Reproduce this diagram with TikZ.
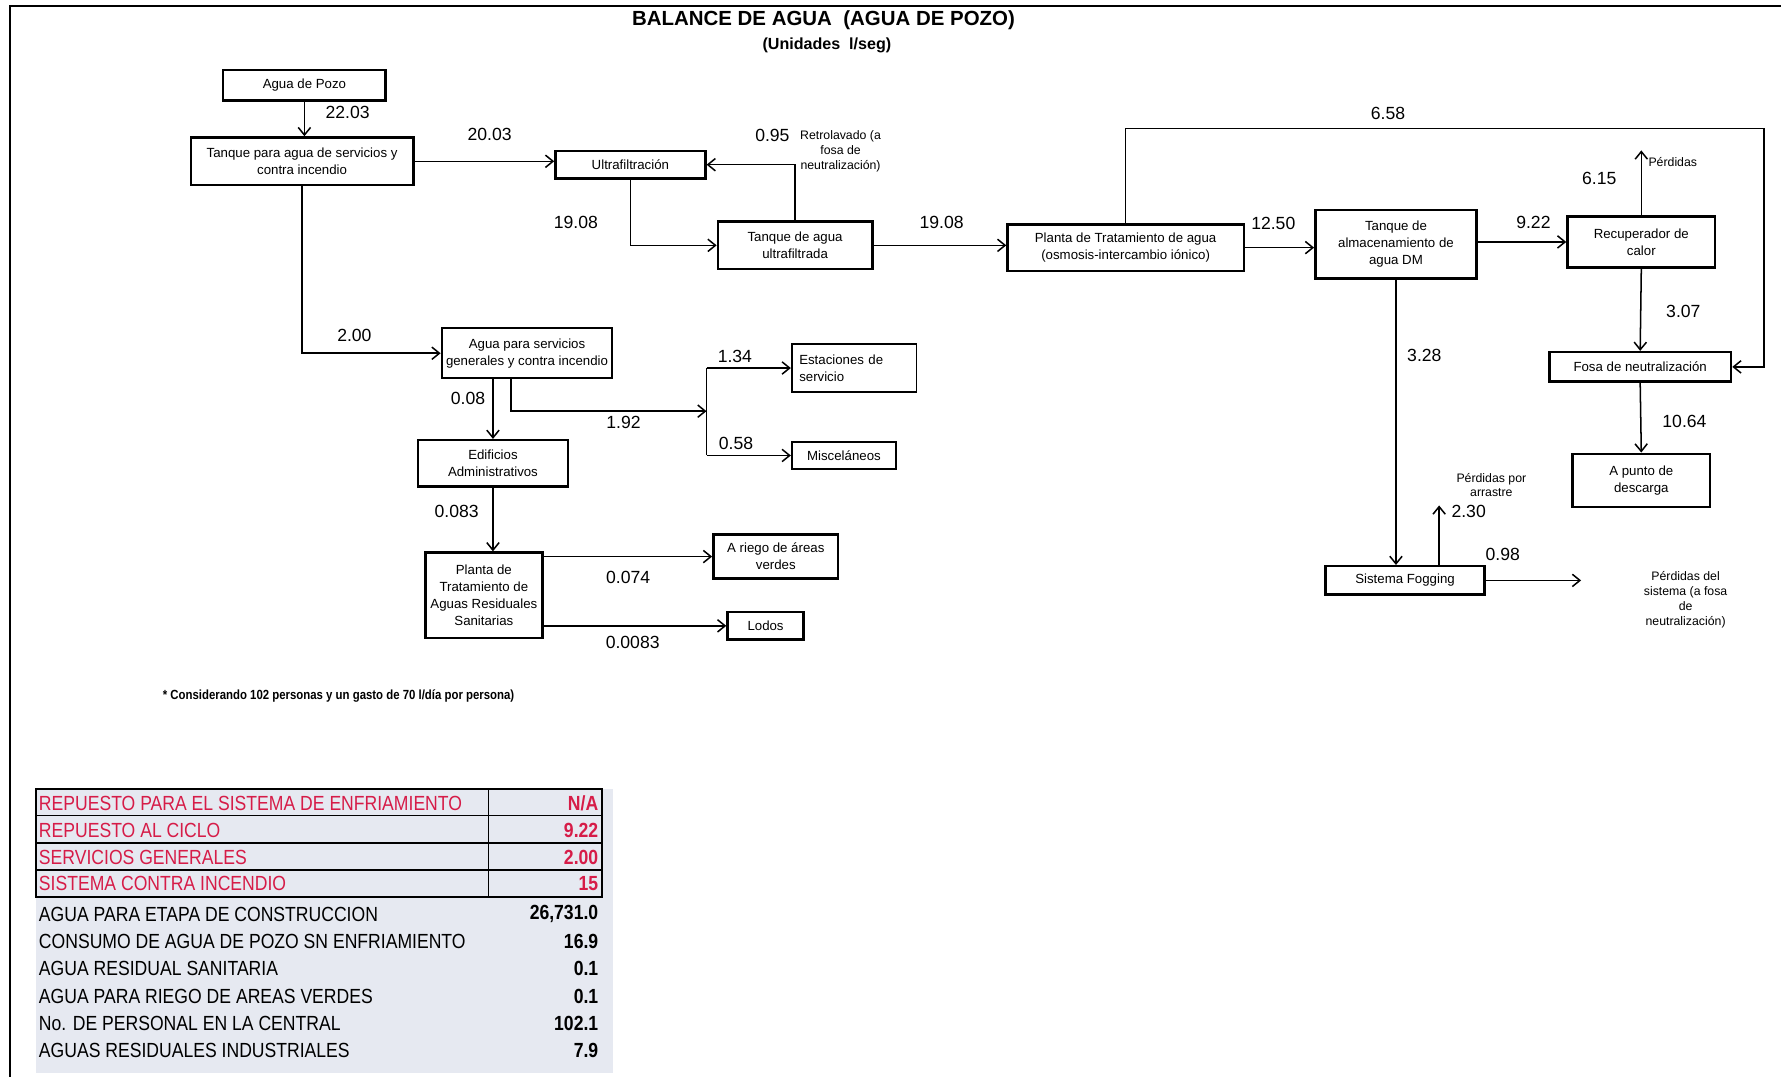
\documentclass[tikz,border=0pt]{standalone}
\usepackage{fontspec}
\setmainfont{Liberation Sans}
\newfontfamily\angosta[FakeStretch=0.86]{Liberation Sans}
\usetikzlibrary{arrows.meta,calc}
\definecolor{rojotabla}{RGB}{214,28,72}
\definecolor{fondotabla}{RGB}{230,233,241}

\begin{document}
\begin{tikzpicture}[x=0.6pt, y=-0.6pt, >={Straight Barb[length=4pt,width=6.5pt]},
	caja/.style={draw, line width=1.3pt, align=center, inner sep=1pt, font=\fontsize{7}{9}\selectfont},
	cajafina/.style={caja, line width=0.9pt},
	num/.style={inner sep=0pt, font=\fontsize{9.3}{11}\selectfont},
	nota/.style={inner sep=0pt, align=center, font=\fontsize{6.5}{7.8}\selectfont},
	flujo/.style={->, line width=0.8pt},
	fila/.style={inner sep=0pt, anchor=west, font=\angosta\fontsize{10.8}{12}\selectfont},
	valor/.style={inner sep=0pt, anchor=east, font=\angosta\bfseries\fontsize{10.8}{12}\selectfont}]
	\useasboundingbox (0,0) rectangle (1568,948);
	\draw[line width=1.2pt] (9,948) -- (9,5) -- (1568,5);

	% titulo
	\node[font=\bfseries\fontsize{10.8}{13}\selectfont] (titulo) at (725,18) {BALANCE DE AGUA\ \ (AGUA DE POZO)};
	\node[font=\bfseries\fontsize{8.5}{10}\selectfont] (unidades) at (728,40) {(Unidades\ \ l/seg)};

	% cajas
	\node[caja, minimum width=85.8pt, minimum height=16.2pt] (pozo) at (268,75) {Agua de Pozo};
	\node[caja, minimum width=117.6pt, minimum height=25.2pt] (tanque) at (266,142) {Tanque para agua de servicios y\\contra incendio};
	\node[caja, minimum width=79.2pt, minimum height=14.4pt] (ultra) at (555,145) {Ultrafiltración};
	\node[caja, minimum width=81.6pt, minimum height=25.2pt] (tuf) at (700,216) {Tanque de agua\\ultrafiltrada};
	\node[caja, minimum width=124.8pt, minimum height=24.6pt] (planta) at (991,218) {Planta de Tratamiento de agua\\(osmosis-intercambio iónico)};
	\node[caja, minimum width=85.2pt, minimum height=36pt] (tdm) at (1229,215) {Tanque de\\almacenamiento de\\agua DM};
	\node[caja, minimum width=78pt, minimum height=27pt] (recup) at (1445,213) {Recuperador de\\calor};
	\node[caja, minimum width=96pt, minimum height=15.6pt] (fosa) at (1444,323) {Fosa de neutralización};
	\node[caja, minimum width=72.6pt, minimum height=28.2pt] (descarga) at (1445,423) {A punto de\\descarga};
	\node[caja, minimum width=84pt, minimum height=15pt] (fog) at (1237,511) {Sistema Fogging};
	\node[caja, minimum width=90pt, minimum height=26.4pt] (servgen) at (464,311) {Agua para servicios\\generales y contra incendio};
	\node[cajafina, align=left, text width=58pt, inner xsep=4pt, minimum height=25.2pt] (estac) at (752,324) {Estaciones de\\servicio};
	\node[cajafina, minimum width=55.2pt, minimum height=14.4pt] (misc) at (743,401) {Misceláneos};
	\node[caja, minimum width=79.2pt, minimum height=24.6pt] (edif) at (434,408) {Edificios\\Administrativos};
	\node[caja, minimum width=61.8pt, minimum height=45pt] (ptar) at (426,524) {Planta de\\Tratamiento de\\Aguas Residuales\\Sanitarias};
	\node[caja, minimum width=66pt, minimum height=23.4pt] (riego) at (683,490) {A riego de áreas\\verdes};
	\node[caja, minimum width=40.2pt, minimum height=14.4pt] (lodos) at (674,551) {Lodos};

	% textos sueltos
	\node[nota] (retro) at (740,133) {Retrolavado (a\\fosa de\\neutralización)};
	\node[nota, anchor=west] (perdidas) at (1451,143) {Pérdidas};
	\node[nota] (arrastre) at (1313,427) {Pérdidas por\\arrastre};
	\node[nota] (perdsis) at (1484,528) {Pérdidas del\\sistema (a fosa\\de\\neutralización)};

	% caudales
	\foreach \px/\py/\val [count=\i] in {306/99/22.03, 431/118/20.03, 312/295/2.00, 507/196/19.08,
		680/119/0.95, 829/196/19.08, 1222/100/6.58, 1121/197/12.50, 1350/196/9.22, 1408/157/6.15,
		1482/274/3.07, 1483/371/10.64, 1254/313/3.28, 1293/450/2.30, 1323/488/0.98, 412/351/0.08,
		549/372/1.92, 647/314/1.34, 648/390/0.58, 402/450/0.083, 553/508/0.074, 557/566/0.0083}
		\node[num] (caudal\i) at (\px,\py) {\val};

	% conexiones
	\coordinate (retorno) at (1553,113);
	\coordinate (perdtop) at ($(recup.north)+(0,-57)$);
	\coordinate (arrtop) at (1267,445);
	\coordinate (sisend) at (1392,511);
	\coordinate (reparto) at (622,362);
	\draw[flujo] (pozo.south) -- (pozo.south |- tanque.north);
	\draw[flujo] (tanque.east) -- (tanque.east -| ultra.west);
	\draw[flujo] (tanque.south) |- (servgen.west);
	\draw[flujo] (ultra.south) |- (tuf.west);
	\draw[flujo] (tuf.north) |- (ultra.east);
	\draw[flujo] (tuf.east) -- (tuf.east -| planta.west);
	\draw[flujo] (planta.north) |- (retorno) |- (fosa.east);
	\draw[flujo] (planta.east) -- (planta.east -| tdm.west);
	\draw[flujo] (tdm.east |- recup.west) -- (recup.west);
	\draw[flujo] (recup.north) -- (perdtop);
	\draw[flujo] (recup.south) -- (fosa.north);
	\draw[flujo] (fosa.south) -- (descarga.north);
	\draw[flujo] (tdm.south) -- (tdm.south |- fog.north);
	\draw[flujo] (fog.north -| arrtop) -- (arrtop);
	\draw[flujo] (fog.east) -- (sisend);
	\draw[flujo] (servgen.south -| edif.north) -- (edif.north);
	\draw[flujo] ($(servgen.south)+(-14,0)$) |- (reparto);
	\draw[line width=0.8pt] (reparto |- estac.west) -- (reparto |- misc.west);
	\draw[flujo] (reparto |- estac.west) -- (estac.west);
	\draw[flujo] (reparto |- misc.west) -- (misc.west);
	\draw[flujo] (edif.south) -- (edif.south |- ptar.north);
	\draw[flujo] (ptar.east |- riego.west) -- (riego.west);
	\draw[flujo] (ptar.east |- lodos.west) -- (lodos.west);

	\node[anchor=west, inner sep=0pt, font=\angosta\bfseries\fontsize{7}{8}\selectfont] (consid) at (143,613) {* Considerando 102 personas y un gasto de 70 l/día por persona)};

	% tabla
	\fill[fondotabla] (32,695) rectangle (540,945);
	\draw[line width=1.1pt] (32,695) rectangle (530,790);
	\foreach \y in {718,742,766}
		\draw[line width=0.9pt] (32,\y) -- (530,\y);
	\draw[line width=0.9pt] (430,695) -- (430,790);
	\foreach \py/\txt/\val/\col [count=\i] in {707/{REPUESTO PARA EL SISTEMA DE ENFRIAMIENTO}/{N/A}/rojotabla,
		731/{REPUESTO AL CICLO}/{9.22}/rojotabla, 755/{SERVICIOS GENERALES}/{2.00}/rojotabla,
		778/{SISTEMA CONTRA INCENDIO}/{15}/rojotabla, 805/{AGUA PARA ETAPA DE CONSTRUCCION}/{26,731.0}/black,
		829/{CONSUMO DE AGUA DE POZO SN ENFRIAMIENTO}/{16.9}/black, 853/{AGUA RESIDUAL SANITARIA}/{0.1}/black,
		877/{AGUA PARA RIEGO DE AREAS VERDES}/{0.1}/black, 901/{No. DE PERSONAL EN LA CENTRAL}/{102.1}/black,
		925/{AGUAS RESIDUALES INDUSTRIALES}/{7.9}/black}
	{
		\node[fila, text=\col] (fila\i) at (34,\py) {\txt};
		\node[valor, text=\col] (valor\i) at (527,\py) {\val};
	}
\end{tikzpicture}
\end{document}
